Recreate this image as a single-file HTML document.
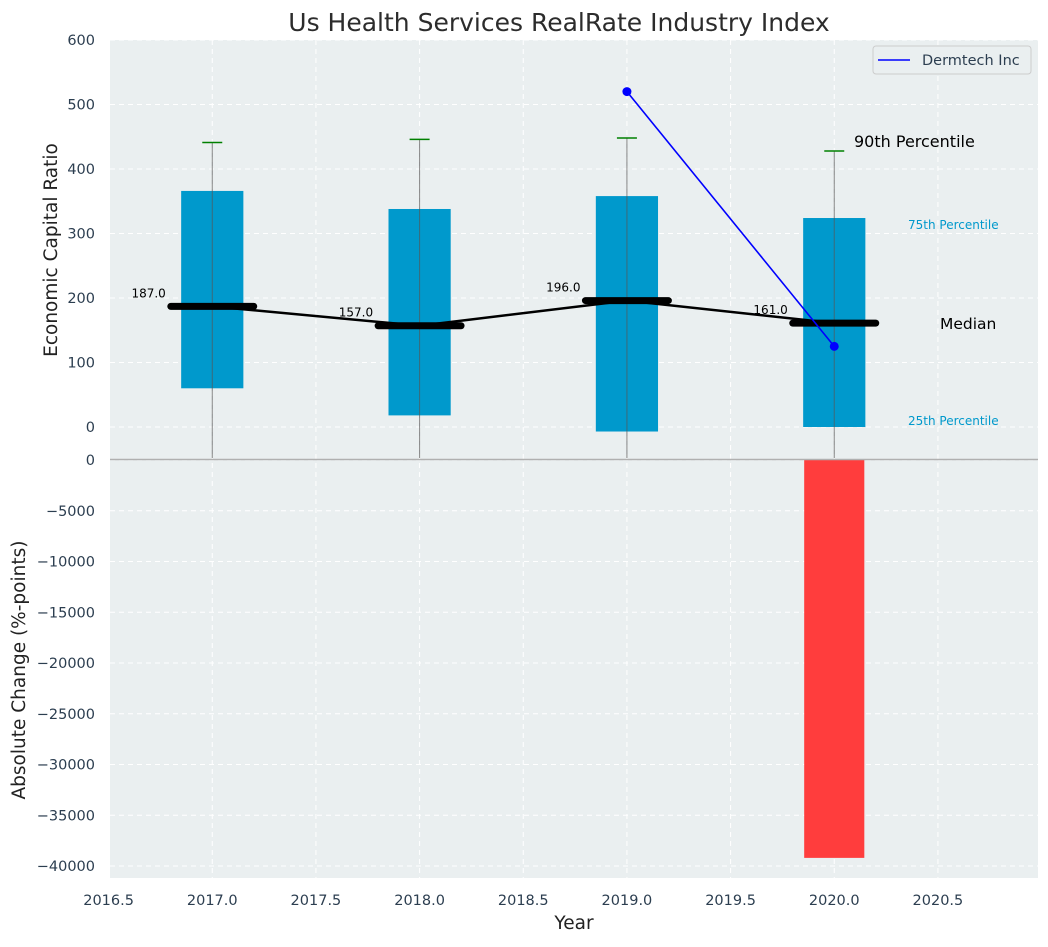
<!DOCTYPE html>
<html><head><meta charset="utf-8"><style>
body{margin:0;background:#fff;font-family:"Liberation Sans","DejaVu Sans",sans-serif;}
svg text{font-family:"DejaVu Sans","Liberation Sans",sans-serif;}
</style></head><body>
<svg id="c" width="1048" height="942" xmlns="http://www.w3.org/2000/svg"></svg>
<script>
const years=[2017,2018,2019,2020];
const p25=[60,18,-7,0];
const p75=[366,338,358,324];
const p90=[441,446,448,428];
const medians=[187,157,196,161];
const dermYears=[2019,2020];
const dermVals=[520,125];
const changeYears=[2020];
const changeVals=[-39200];
const xTicks=[2016.5,2017,2017.5,2018,2018.5,2019,2019.5,2020,2020.5];
const yTopTicks=[0,100,200,300,400,500,600];
const yBotTicks=[0,-5000,-10000,-15000,-20000,-25000,-30000,-35000,-40000];

const NS="http://www.w3.org/2000/svg";
const svg=document.getElementById('c');
function el(tag,attrs,parent){const e=document.createElementNS(NS,tag);for(const k in attrs)e.setAttribute(k,attrs[k]);(parent||svg).appendChild(e);return e;}
const L=110,R=1038,T1=40,B1=459,T2=459,B2=878;
const X=v=>108.6+(v-2016.5)*207.33;
const Y1=v=>427-v*0.645;
const Y2=v=>460+(-v)*50.75/5000;
let bg=el('rect',{x:L,y:T1,width:R-L,height:B1-T1,fill:'#eaeff0'});

let bg2=el('rect',{x:L,y:T2,width:R-L,height:B2-T2,fill:'#eaeff0'});

xTicks.forEach(t=>{
  const g=el('line',{x1:X(t),x2:X(t),y1:T1,y2:B2,stroke:'#fff','stroke-dasharray':'5,4','stroke-width':1});
  
  const tx=el('text',{x:X(t),y:905,'text-anchor':'middle','font-size':14.5,fill:'#2c3e50'});
  tx.textContent=t.toFixed(1);
  
});
yTopTicks.forEach(t=>{
  const g=el('line',{x1:L,x2:R,y1:Y1(t),y2:Y1(t),stroke:'#fff','stroke-dasharray':'5,4'});
  
  const tx=el('text',{x:95,y:Y1(t)+5,'text-anchor':'end','font-size':14.5,fill:'#2c3e50'});
  tx.textContent=t;
  
});
yBotTicks.forEach(t=>{
  const g=el('line',{x1:L,x2:R,y1:Y2(t),y2:Y2(t),stroke:'#fff','stroke-dasharray':'5,4'});
  
  const tx=el('text',{x:95,y:Y2(t)+5,'text-anchor':'end','font-size':14.5,fill:'#2c3e50'});
  tx.textContent=t===0?'0':'\u2212'+Math.abs(t);
  
});
years.forEach((y,i)=>{
  const b=el('rect',{x:X(y-0.15),y:Y1(p75[i]),width:X(y+0.15)-X(y-0.15),height:Y1(p25[i])-Y1(p75[i]),fill:'#0099cc'});
  
  const w=el('line',{x1:X(y),x2:X(y),y1:Y1(p90[i]),y2:B1-1,stroke:'#555','stroke-opacity':0.7,'stroke-width':1});
  
  const c=el('line',{x1:X(y)-10,x2:X(y)+10,y1:Y1(p90[i]),y2:Y1(p90[i]),stroke:'green','stroke-width':1.5});
  
});
const mp=el('polyline',{points:years.map((y,i)=>X(y)+','+Y1(medians[i])).join(' '),fill:'none',stroke:'#000','stroke-width':2.5});

years.forEach((y,i)=>{
  const m=el('line',{x1:X(y-0.2),x2:X(y+0.2),y1:Y1(medians[i]),y2:Y1(medians[i]),stroke:'#000','stroke-width':7,'stroke-linecap':'round'});
  
  const t=el('text',{x:X(y-0.2)-5,y:Y1(medians[i])-9,'text-anchor':'end','font-size':12,fill:'#000'});
  t.textContent=medians[i].toFixed(1);
  
});
const dl=el('polyline',{points:dermYears.map((y,i)=>X(y)+','+Y1(dermVals[i])).join(' '),fill:'none',stroke:'blue','stroke-width':1.6});

dermYears.forEach((y,i)=>{
  const p=el('circle',{cx:X(y),cy:Y1(dermVals[i]),r:4.5,fill:'blue'});
  
});
[['90th Percentile',854,147,16,'#000'],['75th Percentile',908,229,12,'#0099cc'],['Median',940,329,15.5,'#000'],['25th Percentile',908,425,12,'#0099cc']].forEach(a=>{
  const t=el('text',{x:a[1],y:a[2],'font-size':a[3],fill:a[4]});t.textContent=a[0];
  
});
changeYears.forEach((y,i)=>{
  const b=el('rect',{x:X(y-0.145),y:Y2(0),width:X(y+0.145)-X(y-0.145),height:Y2(changeVals[i])-Y2(0),fill:'#ff3d3d'});
  
});
const dv=el('line',{x1:L,x2:R,y1:459.5,y2:459.5,stroke:'#b0b0b0','stroke-width':1.5});

const lg=el('g',{});
el('rect',{x:873,y:46,width:158,height:28,rx:3,fill:'#eaeff0',stroke:'#ccc'},lg);
el('line',{x1:878,x2:910,y1:60,y2:60,stroke:'blue','stroke-width':1.6},lg);
const lt=el('text',{x:922,y:65,'font-size':14.5,fill:'#2c3e50'},lg);lt.textContent='Dermtech Inc';

const tt=el('text',{x:559,y:31,'text-anchor':'middle','font-size':25,fill:'#2c2c2c'});tt.textContent='Us Health Services RealRate Industry Index';

const xt=el('text',{x:574,y:929,'text-anchor':'middle','font-size':18.5,fill:'#222'});xt.textContent='Year';

const y1t=el('text',{x:0,y:0,'text-anchor':'middle','font-size':18.5,fill:'#222',transform:'translate(57,250) rotate(-90)'});y1t.textContent='Economic Capital Ratio';

const y2t=el('text',{x:0,y:0,'text-anchor':'middle','font-size':18.5,fill:'#222',transform:'translate(25,670) rotate(-90)'});y2t.textContent='Absolute Change (%-points)';

</script>
</body></html>
